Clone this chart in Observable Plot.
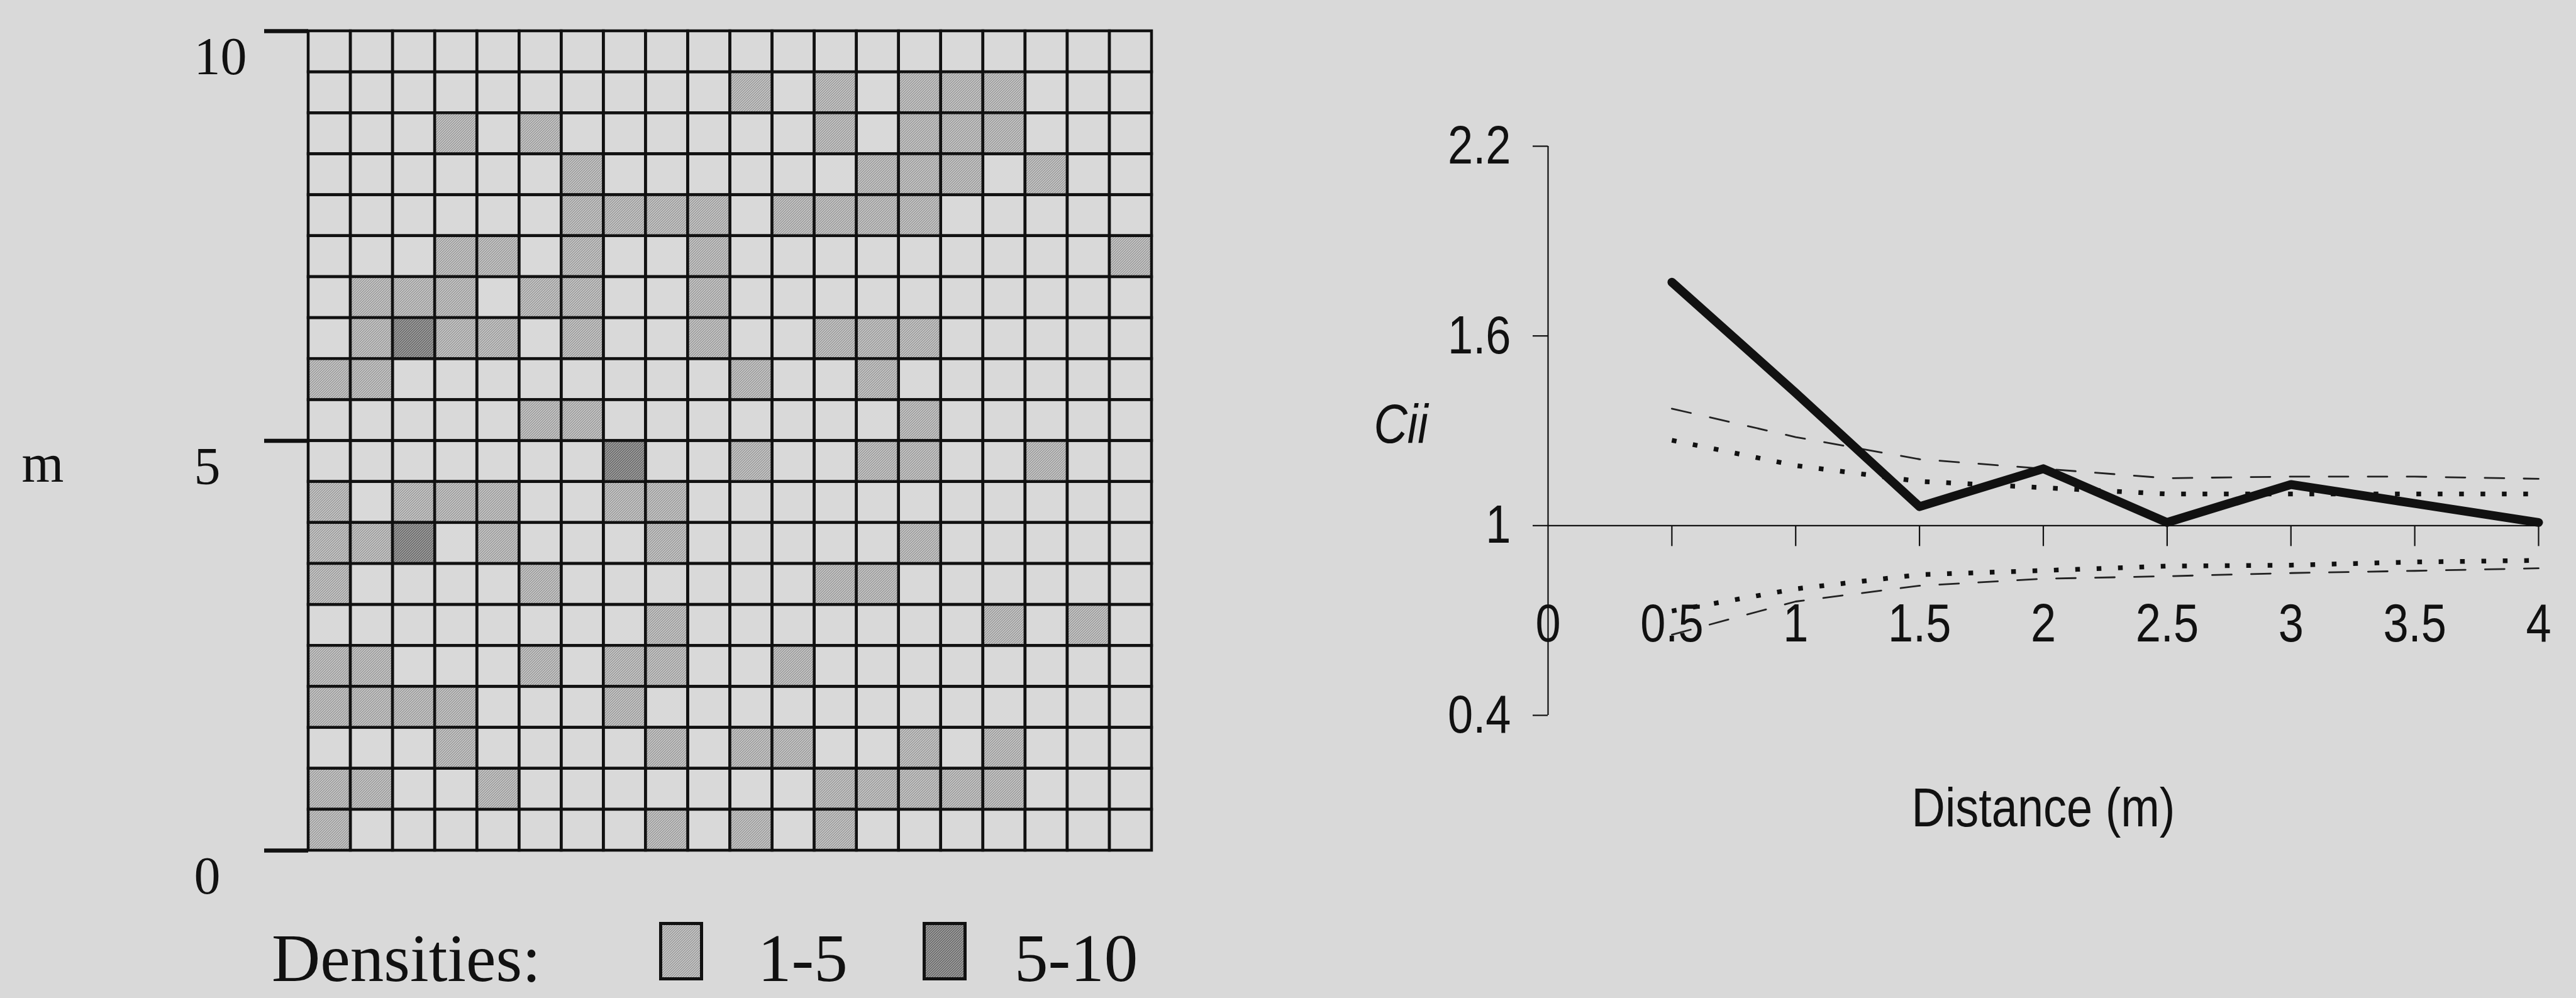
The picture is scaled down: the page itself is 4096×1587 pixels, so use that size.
<!DOCTYPE html>
<html>
<head>
<meta charset="utf-8">
<script src="https://cdn.jsdelivr.net/npm/d3@7"></script>
<script src="https://cdn.jsdelivr.net/npm/@observablehq/plot@0.6"></script>
<style>
html, body { margin: 0; padding: 0; background: #d9d9d9; }
#page { position: relative; width: 4096px; height: 1587px; overflow: hidden; background: #d9d9d9; }
</style>
</head>
<body>
<div id="page"></div>
<script>
// ---------- DATA: quadrat map (20 x 20 cells of 0.5 m, rows listed from the top) ----------
const gridSize = 20;          // cells per side
const gridExtent = 10;        // metres per side
const leftTicks = [0, 5, 10];
// column indices of cells with density 1-5, one array per row (row 0 = top, 9.5-10 m)
const lightCells = [
  [],
  [10, 12, 14, 15, 16],
  [3, 5, 12, 14, 15, 16],
  [6, 13, 14, 15, 17],
  [6, 7, 8, 9, 11, 12, 13, 14],
  [3, 4, 6, 9, 19],
  [1, 2, 3, 5, 6, 9],
  [1, 3, 4, 6, 9, 12, 13, 14],
  [0, 1, 10, 13],
  [5, 6, 14],
  [10, 13, 14, 17],
  [0, 2, 3, 4, 7, 8],
  [0, 1, 4, 8, 14],
  [0, 5, 12, 13],
  [8, 16, 18],
  [0, 1, 5, 7, 8, 11],
  [0, 1, 2, 3, 7],
  [3, 8, 10, 11, 14, 16],
  [0, 1, 4, 12, 13, 14, 15, 16],
  [0, 8, 10, 12]
];
// [row, column] of cells with density 5-10
const darkCells = [[7, 2], [10, 7], [12, 2]];
const legendLabels = ["1-5", "5-10"];

// ---------- DATA: Cii against distance ----------
const distance   = [0.5, 1, 1.5, 2, 2.5, 3, 3.5, 4];
const cii        = [1.77, 1.42, 1.06, 1.18, 1.01, 1.13, 1.07, 1.01];
const upperOuter = [1.37, 1.28, 1.21, 1.18, 1.15, 1.155, 1.155, 1.148];
const upperInner = [1.27, 1.19, 1.14, 1.12, 1.10, 1.10, 1.10, 1.10];
const lowerInner = [0.73, 0.80, 0.845, 0.858, 0.872, 0.875, 0.885, 0.89];
const lowerOuter = [0.655, 0.76, 0.81, 0.832, 0.84, 0.85, 0.857, 0.865];
const xTickLabels = [0, 0.5, 1, 1.5, 2, 2.5, 3, 3.5, 4];
const xTickMarks = [0.5, 1, 1.5, 2, 2.5, 3, 3.5, 4];
const yTicks = [0.4, 1, 1.6, 2.2];

// ---------- patterns ----------
const page = document.getElementById("page");
const defsSvg = d3.select(page).append("svg")
  .attr("width", 0).attr("height", 0)
  .style("position", "absolute").style("left", "0px").style("top", "0px");
const defs = defsSvg.append("defs");
function hatch(id, bg, fg) {
  const p = defs.append("pattern").attr("id", id)
    .attr("patternUnits", "userSpaceOnUse").attr("width", 4).attr("height", 4);
  p.append("rect").attr("width", 4).attr("height", 4).attr("fill", bg);
  p.append("path").attr("d", "M-1,1 L1,-1 M0,4 L4,0 M3,5 L5,3")
    .attr("stroke", fg).attr("stroke-width", 1.2);
}
hatch("hatchLight", "#cacaca", "#8c8c8c");
hatch("hatchDark", "#a2a2a2", "#575757");

// ---------- build cell table ----------
const step = gridExtent / gridSize;
const darkSet = new Set(darkCells.map(([r, c]) => r * gridSize + c));
const cells = [];
for (let r = 0; r < gridSize; r++) {
  for (let c = 0; c < gridSize; c++) {
    const density = darkSet.has(r * gridSize + c) ? "5-10" : lightCells[r].includes(c) ? "1-5" : "0";
    cells.push({x1: c * step, x2: (c + 1) * step, y1: gridExtent - (r + 1) * step, y2: gridExtent - r * step, density});
  }
}

const serif = "'Liberation Serif', 'Times New Roman', Times, serif";
const sans = "'Liberation Sans', Arial, Helvetica, sans-serif";
const ink = "#111";
const cellOpts = {x1: "x1", x2: "x2", y1: "y1", y2: "y2", stroke: ink, strokeWidth: 4.5};

const leftPlot = Plot.plot({
  width: 1900, height: 1440,
  marginLeft: 490, marginRight: 69, marginTop: 49, marginBottom: 88,
  x: {domain: [0, gridExtent], axis: null},
  y: {domain: [0, gridExtent], axis: null},
  style: {position: "absolute", left: "0px", top: "0px", background: "none", maxWidth: "none",
          overflow: "visible", fontFamily: serif, fontSize: "84px", color: ink},
  marks: [
    Plot.rect(cells.filter(d => d.density === "0"), {...cellOpts, fill: "none"}),
    Plot.rect(cells.filter(d => d.density === "1-5"), {...cellOpts, fill: "url(#hatchLight)"}),
    Plot.rect(cells.filter(d => d.density === "5-10"), {...cellOpts, fill: "url(#hatchDark)"}),
    Plot.axisY({ticks: leftTicks, tickSize: 70, strokeWidth: 6.5, stroke: ink, fill: "none", label: null}),
    Plot.axisY({ticks: leftTicks, tickSize: 70, tickPadding: 112, stroke: "none", fill: ink,
                textAnchor: "start", dy: 42, fontSize: 84, label: null, tickFormat: d => String(d)}),
    Plot.text(["m"], {frameAnchor: "left", textAnchor: "start", lineAnchor: "middle",
                      dx: -456, dy: 37, fontSize: 86, fill: ink})
  ]
});
page.appendChild(leftPlot);

// ---------- right chart ----------
const rows = vals => distance.map((d, i) => ({d, v: vals[i]}));
const rightPlot = Plot.plot({
  width: 1996, height: 1400,
  marginLeft: 361, marginRight: 60, marginTop: 232, marginBottom: 263,
  x: {domain: [0, 4], axis: null},
  y: {domain: [0.4, 2.2], axis: null},
  style: {position: "absolute", left: "2100px", top: "0px", background: "none", maxWidth: "none",
          overflow: "visible", fontFamily: sans, fontSize: "86px", color: ink},
  marks: [
    Plot.ruleX([0], {stroke: ink, strokeWidth: 2.2}),
    Plot.ruleY([1], {stroke: ink, strokeWidth: 2.2}),
    Plot.axisY({ticks: yTicks, tickSize: 24, tickPadding: 35, strokeWidth: 2.2, stroke: ink, fill: ink,
                fontSize: 86, label: null, tickFormat: d => (d === 1 ? "1" : d.toFixed(1))}),
    Plot.ruleX(xTickMarks, {x: d => d, y1: () => 1, y2: () => 1, insetBottom: -33, stroke: ink, strokeWidth: 2.2}),
    Plot.text(xTickLabels, {x: d => d, y: () => 1, text: d => String(d), dy: 157, lineAnchor: "middle",
                            fontSize: 86, fill: ink}),
    Plot.line(rows(upperOuter), {x: "d", y: "v", stroke: "#222", strokeWidth: 2.8, strokeDasharray: "31,31"}),
    Plot.line(rows(lowerOuter), {x: "d", y: "v", stroke: "#222", strokeWidth: 2.8, strokeDasharray: "31,31"}),
    Plot.line(rows(upperInner), {x: "d", y: "v", stroke: ink, strokeWidth: 7.5, strokeDasharray: "7.5,26.5", strokeLinecap: "butt"}),
    Plot.line(rows(lowerInner), {x: "d", y: "v", stroke: ink, strokeWidth: 7.5, strokeDasharray: "7.5,26.5", strokeLinecap: "butt"}),
    Plot.line(rows(cii), {x: "d", y: "v", stroke: ink, strokeWidth: 14, strokeLinejoin: "round", strokeLinecap: "round"}),
    Plot.text(["Cii"], {frameAnchor: "left", textAnchor: "middle", lineAnchor: "middle",
                        dx: -234, dy: -9, fontStyle: "italic", fontSize: 88, fill: ink}),
    Plot.text(["Distance (m)"], {frameAnchor: "bottom", textAnchor: "middle", lineAnchor: "middle",
                                 dy: 148, fontSize: 88, fill: ink})
  ]
});
page.appendChild(rightPlot);
// the original uses a narrow (condensed) sans face: condense the sans labels horizontally
rightPlot.querySelectorAll("text").forEach(t => {
  const w = t.getComputedTextLength();
  if (w > 0) {
    t.setAttribute("textLength", (w * 0.84).toFixed(1));
    t.setAttribute("lengthAdjust", "spacingAndGlyphs");
  }
});

// ---------- legend (below the map) ----------
const legend = d3.select(page).append("svg")
  .attr("width", 2000).attr("height", 187)
  .style("position", "absolute").style("left", "0px").style("top", "1400px")
  .style("font-family", serif).style("font-size", "107px");
legend.append("text").attr("x", 432).attr("y", 160).attr("fill", ink).text("Densities:");
const swatchX = [1048, 1467];
const labelX = [1205, 1613];
const swatchFill = ["url(#hatchLight)", "url(#hatchDark)"];
legendLabels.forEach((lab, i) => {
  legend.append("rect").attr("x", swatchX[i] + 2.5).attr("y", 68.5).attr("width", 65).attr("height", 88)
    .attr("fill", swatchFill[i]).attr("stroke", ink).attr("stroke-width", 5);
  legend.append("text").attr("x", labelX[i]).attr("y", 160).attr("fill", ink).text(lab);
});
</script>
</body>
</html>
